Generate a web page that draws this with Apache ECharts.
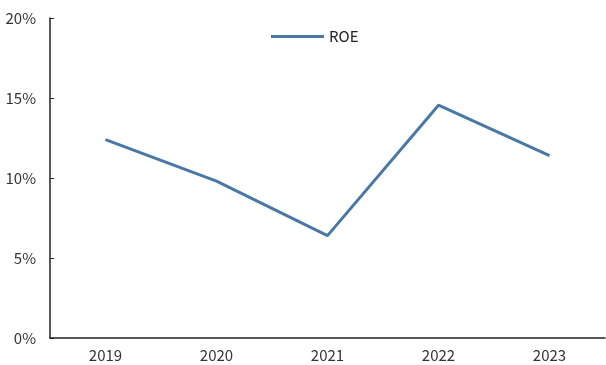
<!DOCTYPE html>
<html>
<head>
<meta charset="utf-8">
<script src="https://cdn.jsdelivr.net/npm/echarts@6/dist/echarts.min.js"></script>
<style>
    html, body { margin: 0; padding: 0; background: #fff; }
    #chart { width: 606px; height: 365px; }
</style>
</head>
<body>
<div id="chart"></div>
<script>
var years = ['2019', '2020', '2021', '2022', '2023'];
var roe = [12.4, 9.8, 6.4, 14.55, 11.4];
var yTicks = [0, 5, 10, 15, 20];

var myChart = echarts.init(document.getElementById('chart'));
var option = {
    animation: false,
    textStyle: { fontFamily: '"Noto Sans CJK SC", "Noto Sans", sans-serif' },
    legend: {
        left: 266,
        top: 24,
        icon: 'rect',
        itemWidth: 53,
        itemHeight: 3,
        itemGap: 4,
        textStyle: { color: '#222', fontSize: 15 },
        data: ['ROE']
    },
    grid: { left: 50, right: 1, top: 18, bottom: 27 },
    xAxis: {
        type: 'category',
        data: years,
        boundaryGap: true,
        axisLine: { lineStyle: { color: '#222', width: 1.5 } },
        axisTick: { inside: true, alignWithLabel: true, length: 4, lineStyle: { color: '#222' } },
        axisLabel: { color: '#333', fontSize: 15, margin: 10 }
    },
    yAxis: {
        type: 'value',
        min: yTicks[0],
        max: yTicks[yTicks.length - 1],
        interval: 5,
        axisLine: { show: true, lineStyle: { color: '#222', width: 1.5 } },
        axisTick: { show: true, inside: true, length: 4, lineStyle: { color: '#222' } },
        splitLine: { show: false },
        axisLabel: { color: '#333', fontSize: 15, margin: 14, formatter: '{value}%' }
    },
    series: [{
        name: 'ROE',
        type: 'line',
        data: roe,
        symbol: 'none',
        itemStyle: { color: '#4a78a6' },
        lineStyle: { color: '#4a78a6', width: 3 }
    }]
};
myChart.setOption(option);
</script>
</body>
</html>
